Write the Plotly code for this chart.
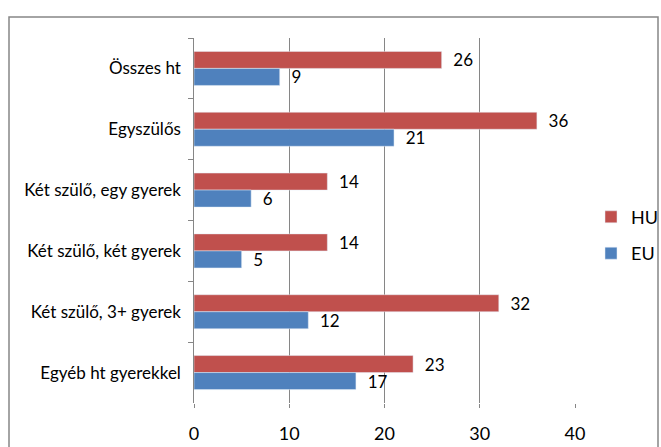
import plotly.graph_objects as go

categories = ["Összes ht", "Egyszülős", "Két szülő, egy gyerek", "Két szülő, két gyerek",
              "Két szülő, 3+ gyerek", "Egyéb ht gyerekkel"]
hu_values = [26, 36, 14, 14, 32, 23]
eu_values = [9, 21, 6, 5, 12, 17]
x_ticks = [0, 10, 20, 30, 40]

FONT = "Lato, Open Sans, sans-serif"

fig = go.Figure()
fig.add_trace(go.Bar(y=categories, x=hu_values, name="HU", orientation="h",
                     legendgroup="hu",
                     marker=dict(color="#C0504D"), text=hu_values,
                     texttemplate="  %{x}", textposition="outside", constraintext="none",
                     textfont=dict(family=FONT, size=17, color="#000000"), cliponaxis=False))
fig.add_trace(go.Bar(y=categories, x=eu_values, name="EU", orientation="h",
                     legendgroup="eu",
                     marker=dict(color="#4F81BD"), text=eu_values,
                     texttemplate="  %{x}", textposition="outside", constraintext="none",
                     textfont=dict(family=FONT, size=17, color="#000000"), cliponaxis=False))

fig.update_layout(
    width=661, height=447,
    margin=dict(l=194, r=86, t=38, b=44, autoexpand=False),
    paper_bgcolor="white", plot_bgcolor="white",
    barmode="group", bargap=0.44, bargroupgap=0,
    font=dict(family=FONT, size=16, color="#000000"),
    showlegend=True,
    legend=dict(x=(663 - 194) / 381, y=0.46, xanchor="right", yanchor="middle",
                font=dict(family=FONT, size=18), itemwidth=30, tracegroupgap=10,
                traceorder="grouped", bgcolor="rgba(0,0,0,0)"),
    xaxis=dict(range=[0, 40], tickvals=x_ticks, showgrid=True, gridcolor="#868686",
               gridwidth=1, zeroline=False, showline=False, ticks="outside",
               ticklen=4, tickcolor="#868686", tickfont=dict(family=FONT, size=18),
               ticklabelstandoff=10, automargin=False),
    yaxis=dict(autorange="reversed", showline=True, linecolor="#868686", linewidth=1,
               ticks="outside", tickson="boundaries", ticklen=5, tickcolor="#868686",
               showgrid=False, tickfont=dict(family=FONT, size=17), ticksuffix="  ",
               automargin=False),
    shapes=[dict(type="rect", xref="paper", yref="paper",
                 x0=(9 - 194) / 381, x1=(658 - 194) / 381,
                 y0=-0.3, y1=(403 - 17) / 365,
                 line=dict(color="#868686", width=1.5), fillcolor="rgba(0,0,0,0)")],
)

fig.write_html("out.html", config={"displayModeBar": False},
               post_script="document.body.style.margin='0';document.body.style.overflow='hidden';")
